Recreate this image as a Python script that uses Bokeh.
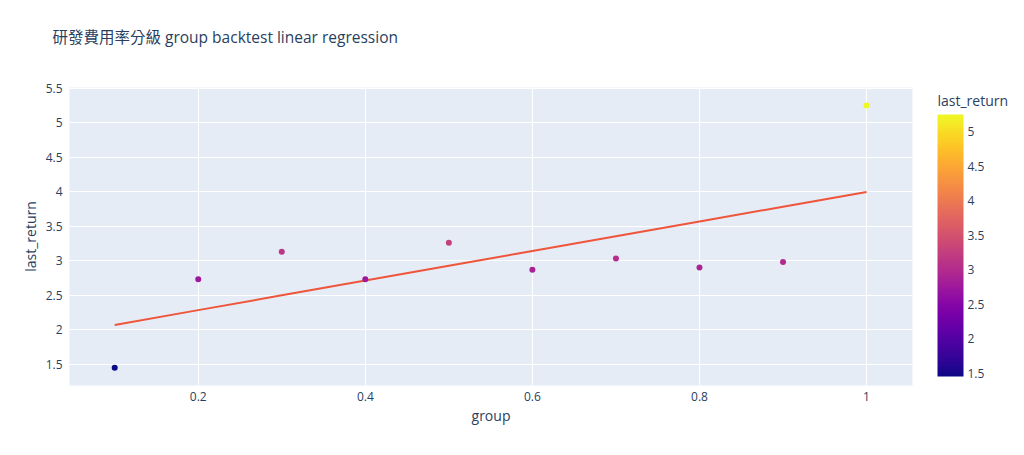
import numpy as np
from bokeh.plotting import figure
from bokeh.models import (ColumnDataSource, LinearColorMapper, ColorBar, FixedTicker, Range1d, Label)
from bokeh.palettes import Plasma256
from bokeh.embed import file_html
from bokeh.resources import INLINE

# ---- data ----
group = [0.1, 0.2, 0.3, 0.4, 0.5, 0.6, 0.7, 0.8, 0.9, 1.0]
last_return = [1.45, 2.73, 3.13, 2.73, 3.26, 2.87, 3.03, 2.90, 2.98, 5.25]
x_ticks = [0.2, 0.4, 0.6, 0.8, 1.0]
x_tick_labels = ["0.2", "0.4", "0.6", "0.8", "1"]
y_ticks = [1.5, 2, 2.5, 3, 3.5, 4, 4.5, 5, 5.5]
y_tick_labels = ["1.5", "2", "2.5", "3", "3.5", "4", "4.5", "5", "5.5"]
cb_ticks = [1.5, 2, 2.5, 3, 3.5, 4, 4.5, 5]
cb_tick_labels = ["1.5", "2", "2.5", "3", "3.5", "4", "4.5", "5"]
title_text = "研發費用率分級 group backtest linear regression"
cb_title = "last_return"

# linear regression trendline
slope, intercept = np.polyfit(group, last_return, 1)
fit = [slope * g + intercept for g in group]

FONT = "'Open Sans', 'Noto Sans CJK TC', sans-serif"
TXT = "#2a3f5f"

src = ColumnDataSource(dict(x=group, y=last_return))
mapper = LinearColorMapper(palette=Plasma256, low=min(last_return), high=max(last_return))

p = figure(width=1024, height=455, output_backend="svg", toolbar_location=None,
           x_range=Range1d(0.0459, 1.055), y_range=Range1d(1.192, 5.509),
           min_border_left=69, min_border_right=112, min_border_top=87, min_border_bottom=70)
p.background_fill_color = "#e5ecf6"
p.border_fill_color = "white"
p.outline_line_color = None

p.line(group, fit, line_color="#EF553B", line_width=2)
p.scatter("x", "y", source=src, size=6, line_color=None,
          fill_color={"field": "y", "transform": mapper})

for ax in (p.xaxis[0], p.yaxis[0]):
    ax.axis_line_color = None
    ax.major_tick_line_color = None
    ax.minor_tick_line_color = None
    ax.major_tick_out = 0
    ax.major_tick_in = 0
    ax.minor_tick_out = 0
    ax.minor_tick_in = 0
    ax.major_label_text_font = FONT
    ax.major_label_text_font_size = "12px"
    ax.major_label_text_color = TXT
    ax.axis_label_text_font = FONT
    ax.axis_label_text_font_size = "14px"
    ax.axis_label_text_font_style = "normal"
    ax.axis_label_text_color = TXT

p.xaxis.ticker = FixedTicker(ticks=x_ticks)
p.xaxis.major_label_overrides = dict(zip(x_ticks, x_tick_labels))
p.yaxis.ticker = FixedTicker(ticks=y_ticks)
p.yaxis.major_label_overrides = dict(zip(y_ticks, y_tick_labels))
p.xaxis.axis_label = "group"
p.yaxis.axis_label = "last_return"
p.xaxis.major_label_standoff = 6
p.xaxis.axis_label_standoff = 2
p.yaxis.major_label_standoff = 7
p.yaxis.axis_label_standoff = 3

p.xgrid.ticker = FixedTicker(ticks=x_ticks)
p.ygrid.ticker = FixedTicker(ticks=y_ticks)
p.grid.grid_line_color = "white"
p.grid.grid_line_width = 1

cb = ColorBar(color_mapper=mapper, ticker=FixedTicker(ticks=cb_ticks),
              major_label_overrides=dict(zip(cb_ticks, cb_tick_labels)),
              width=26, height=262, location=(868, 9),
              major_label_text_font=FONT, major_label_text_font_size="12px",
              major_label_text_color=TXT, major_tick_line_color=None,
              major_tick_out=0, major_tick_in=0,
              bar_line_color=None, border_line_color=None, background_fill_color=None,
              padding=0, label_standoff=4)
p.add_layout(cb, "center")

# colour-bar title, in the right panel (x relative to its left edge, y from frame bottom)
cb_lbl = Label(x=25, y=276, x_units="screen", y_units="screen", text=cb_title,
               text_font=FONT, text_font_size="14px", text_color=TXT,
               text_align="left", text_baseline="bottom")
p.add_layout(cb_lbl, "right")

# chart title, in the top panel
t_lbl = Label(x=-17, y=51, x_units="screen", y_units="screen", text=title_text,
              text_font=FONT, text_font_size="15.5px", text_color=TXT,
              text_align="left", text_baseline="alphabetic")
p.add_layout(t_lbl, "above")

open("out.html", "w").write(file_html(p, INLINE))
